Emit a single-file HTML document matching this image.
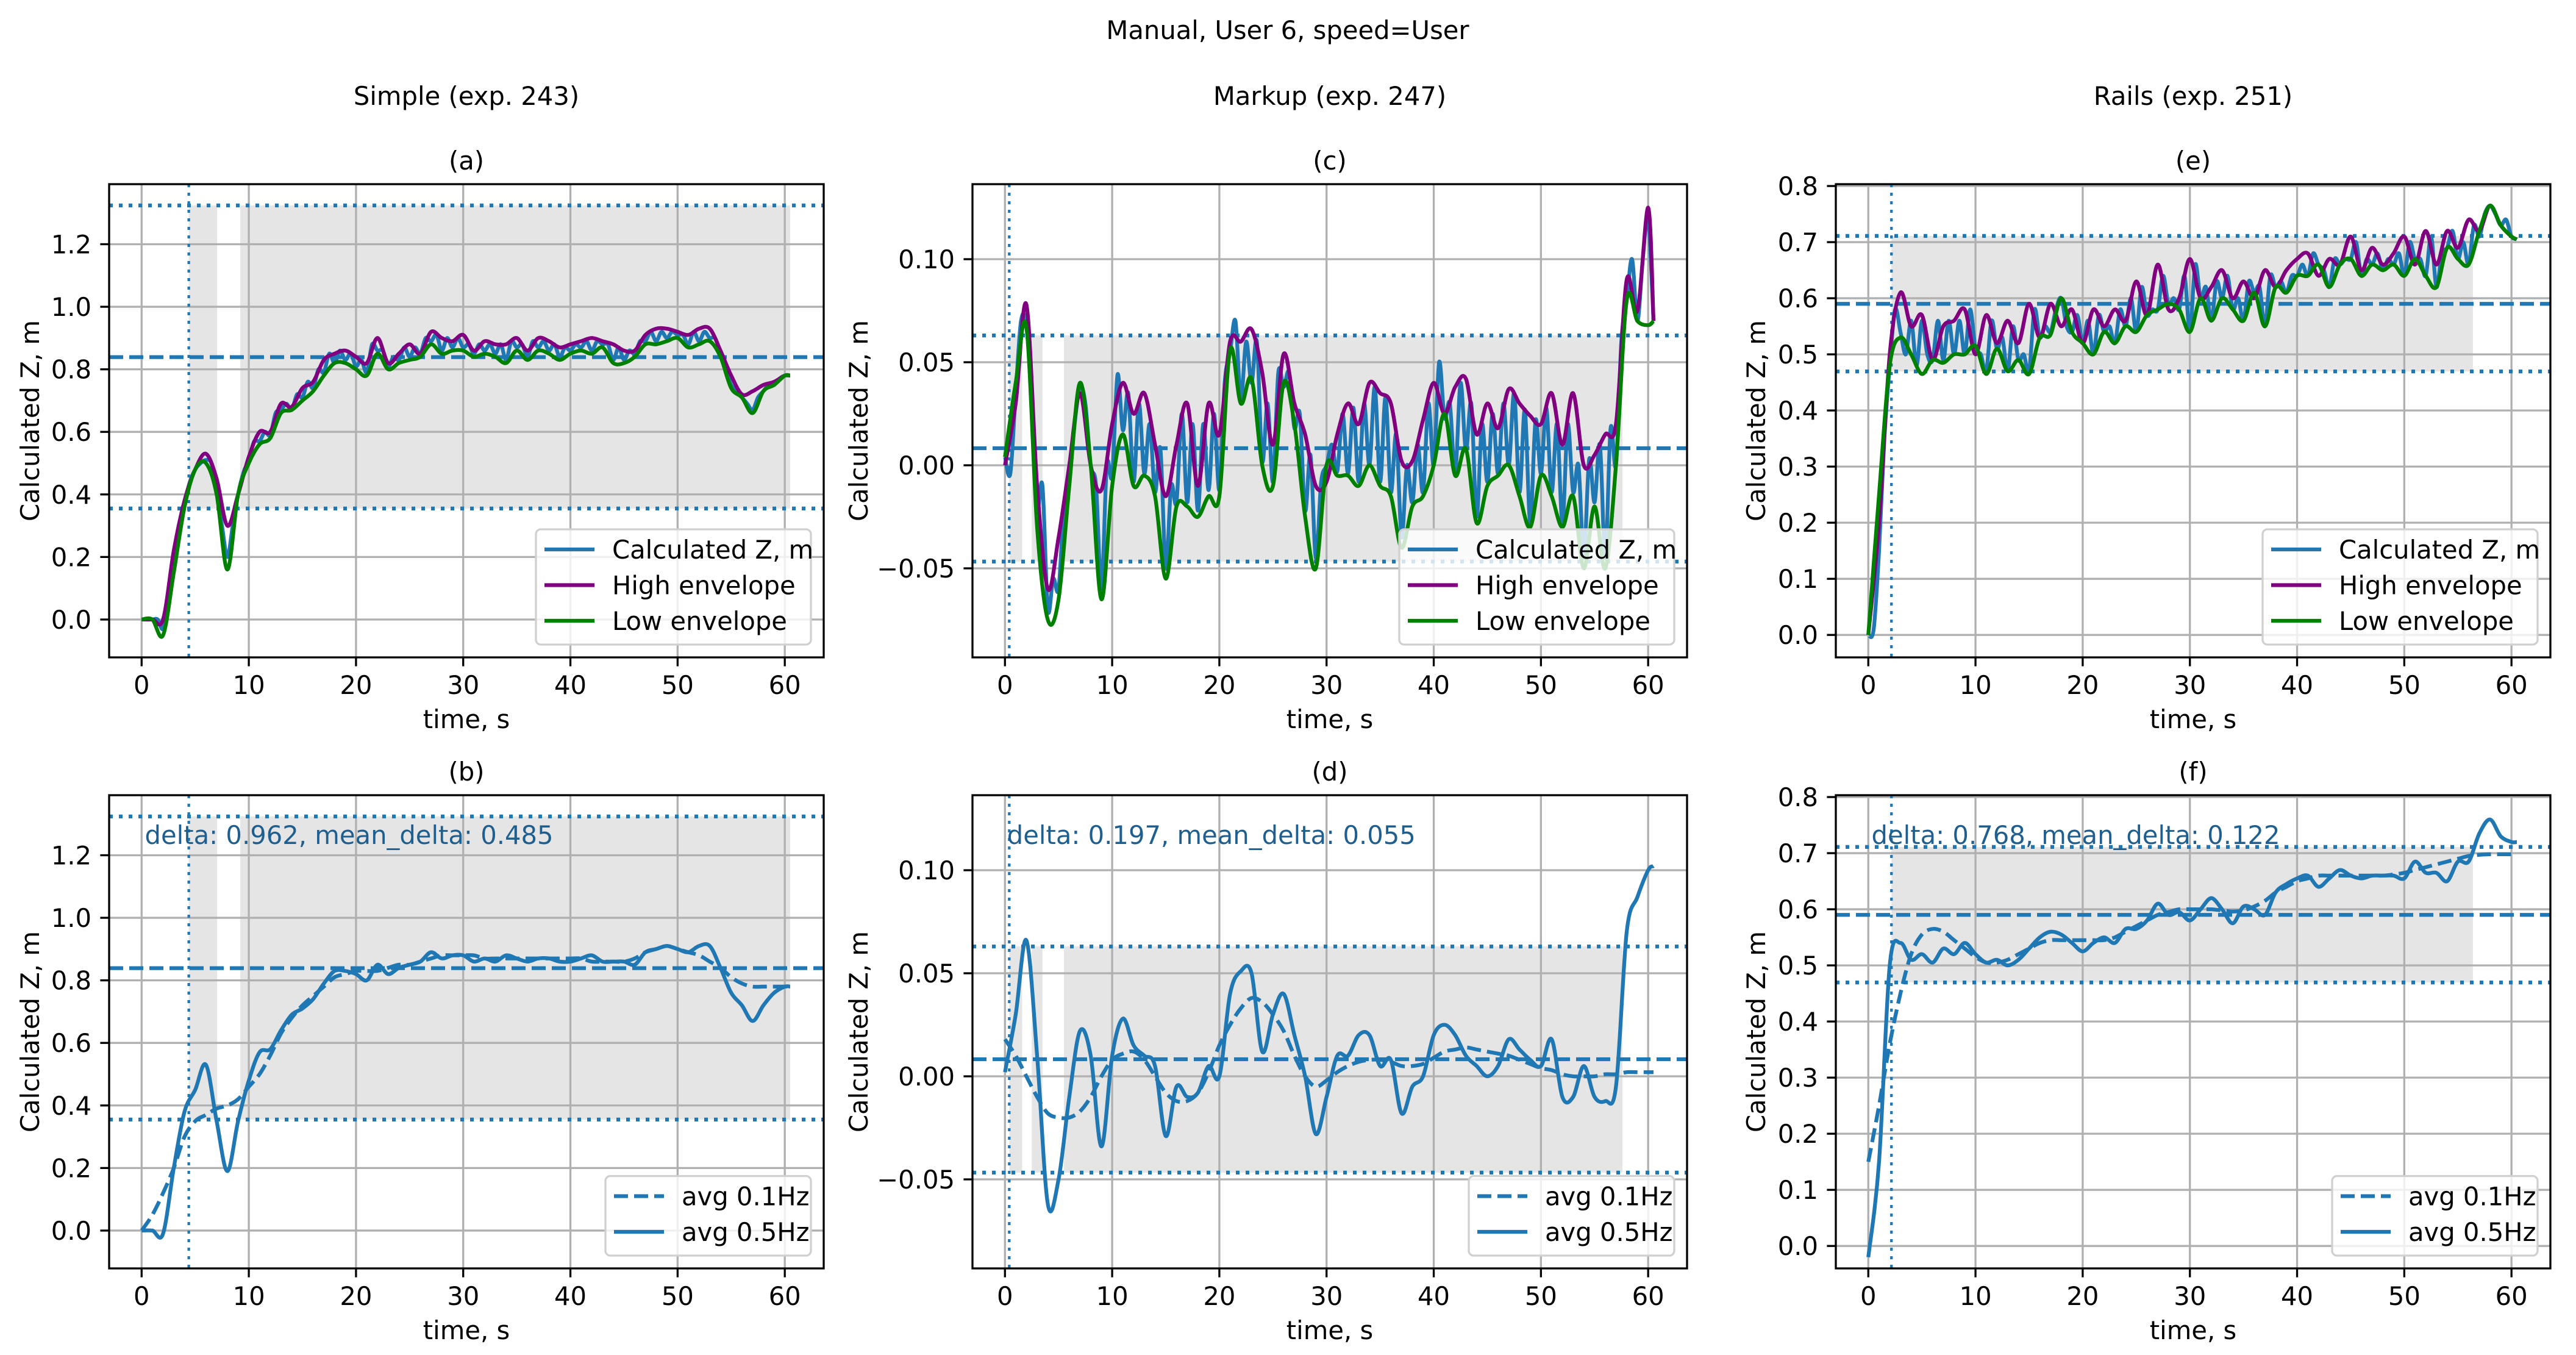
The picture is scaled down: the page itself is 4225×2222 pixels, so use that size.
<!DOCTYPE html>
<html><head><meta charset="utf-8">
<style>
html,body{margin:0;padding:0;background:#fff;}
svg{display:block;font-family:"DejaVu Sans","Liberation Sans",sans-serif;}
</style></head>
<body>
<svg id="fig" xmlns="http://www.w3.org/2000/svg" width="4225" height="2222" viewBox="0 0 4225 2222">
<rect x="0" y="0" width="4225" height="2222" fill="#ffffff"/>
<text x="2112" y="64" font-size="41.7" text-anchor="middle">Manual, User 6, speed=User</text>
<text x="765" y="172" font-size="41.7" text-anchor="middle">Simple (exp. 243)</text>
<text x="2181" y="172" font-size="41.7" text-anchor="middle">Markup (exp. 247)</text>
<text x="3597" y="172" font-size="41.7" text-anchor="middle">Rails (exp. 251)</text>
</svg>
<script>
// ---------- DATA ----------
const tEnv = []; for (let i = 0; i <= 60; i++) tEnv.push(i); tEnv.push(60.5);
const tFast = []; for (let i = 0; i <= 121; i++) tFast.push(i * 0.5);

const xTickLabels = ["0","10","20","30","40","50","60"];
const xTickValues = [0,10,20,30,40,50,60];

// Panel (a) Simple
const aHigh = [0,0,0,0.22,0.38,0.48,0.53,0.45,0.30,0.40,
 0.52,0.60,0.60,0.69,0.68,0.74,0.76,0.83,0.85,0.86,
 0.84,0.82,0.90,0.82,0.85,0.88,0.85,0.92,0.90,0.89,
 0.91,0.86,0.89,0.88,0.88,0.90,0.86,0.90,0.89,0.87,
 0.88,0.89,0.90,0.89,0.88,0.86,0.86,0.91,0.93,0.93,
 0.92,0.91,0.93,0.93,0.86,0.78,0.72,0.73,0.75,0.76,
 0.78,0.78];
const aLow = [0,0,-0.05,0.15,0.36,0.48,0.50,0.40,0.16,0.40,
 0.50,0.56,0.58,0.66,0.67,0.70,0.73,0.78,0.82,0.82,
 0.80,0.78,0.85,0.80,0.82,0.83,0.84,0.88,0.85,0.86,
 0.86,0.84,0.85,0.84,0.82,0.86,0.83,0.86,0.85,0.83,
 0.85,0.86,0.85,0.87,0.82,0.82,0.84,0.88,0.88,0.89,
 0.90,0.87,0.88,0.89,0.84,0.74,0.71,0.66,0.73,0.75,
 0.78,0.78];
const aCalc = [0,0, 0,0, -0.03,0.05, 0.18,0.3, 0.37,0.44, 0.48,0.5, 0.51,0.5, 0.42,0.3, 0.2,0.3, 0.4,0.47,
 0.51,0.57, 0.57,0.6, 0.59,0.66, 0.67,0.69, 0.67,0.72, 0.71,0.76, 0.74,0.8, 0.79,0.85, 0.82,0.86, 0.83,0.85,
 0.81,0.83, 0.79,0.88, 0.86,0.86, 0.81,0.84, 0.83,0.87, 0.84,0.87, 0.85,0.9, 0.89,0.91, 0.86,0.9, 0.87,0.9,
 0.87,0.88, 0.85,0.88, 0.86,0.88, 0.85,0.88, 0.83,0.89, 0.87,0.88, 0.84,0.89, 0.87,0.89, 0.86,0.88, 0.84,0.87,
 0.86,0.88, 0.87,0.89, 0.86,0.89, 0.88,0.88, 0.83,0.87, 0.83,0.86, 0.85,0.89, 0.89,0.92, 0.89,0.92, 0.9,0.92,
 0.91,0.91, 0.88,0.92, 0.89,0.92, 0.9,0.9, 0.85,0.8, 0.75,0.73, 0.71,0.69, 0.67,0.71, 0.73,0.75, 0.75,0.77,
 0.78,0.78];
// Panel (b)
const bFast = [0,0,-0.01,0.2,0.38,0.45,0.53,0.35,0.19,0.35,
 0.48,0.57,0.58,0.64,0.69,0.71,0.74,0.79,0.83,0.83,
 0.82,0.80,0.85,0.82,0.84,0.85,0.86,0.89,0.87,0.88,
 0.88,0.86,0.87,0.86,0.88,0.87,0.86,0.87,0.87,0.86,
 0.86,0.87,0.88,0.86,0.86,0.86,0.85,0.89,0.90,0.91,
 0.90,0.89,0.91,0.91,0.84,0.76,0.72,0.67,0.72,0.76,
 0.78,0.78];
const bSlow = [0,0.05,0.12,0.2,0.3,0.35,0.37,0.39,0.40,0.42,
 0.46,0.5,0.56,0.63,0.68,0.72,0.75,0.78,0.81,0.82,
 0.83,0.83,0.83,0.84,0.85,0.85,0.86,0.87,0.88,0.88,
 0.88,0.88,0.87,0.87,0.87,0.87,0.87,0.87,0.87,0.87,
 0.87,0.87,0.86,0.86,0.86,0.86,0.87,0.89,0.90,0.91,
 0.90,0.89,0.88,0.86,0.84,0.81,0.79,0.78,0.78,0.78,
 0.78,0.78];

// Panel (c) Markup
const cHigh = [0.0,0.03,0.078,-0.01,-0.06,-0.035,0.0,0.035,0.0,-0.012,
 0.02,0.04,0.025,0.035,0.01,-0.015,0.01,0.03,-0.01,0.03,
 0.015,0.06,0.06,0.066,0.045,0.01,0.054,0.03,0.015,-0.01,
 -0.008,0.015,0.03,0.02,0.04,0.035,0.03,0.002,0.002,0.022,
 0.04,0.025,0.038,0.042,0.015,0.03,0.018,0.037,0.03,0.024,
 0.02,0.035,0.01,0.035,0.0,0.005,0.015,0.02,0.09,0.075,
 0.125,0.07];
const cLow = [0.004,0.04,0.067,-0.03,-0.075,-0.065,-0.01,0.04,0.0,-0.065,
 -0.01,0.015,-0.01,-0.005,-0.015,-0.055,-0.02,-0.02,-0.025,-0.015,
 -0.015,0.056,0.03,0.042,0.0,-0.01,0.04,0.02,-0.025,-0.05,
 0.0,-0.005,-0.005,-0.01,0.0,-0.01,-0.015,-0.04,-0.02,-0.015,
 0.0,0.025,-0.005,0.008,-0.028,-0.01,-0.005,0.0,-0.015,-0.03,
 -0.005,-0.015,-0.03,-0.015,-0.05,-0.02,-0.05,0.0,0.08,0.07,
 0.068,0.07];
const cCalc = [0.004,-0.004, 0.035,0.07, 0.068,0.03, -0.02,-0.01, -0.07,-0.055, -0.06,-0.02, -0.008,0.02, 0.038,0.03, 0.0,-0.01, -0.06,0.0,
 -0.005,0.044, 0.017,0.035, -0.008,0.03, -0.004,0.02, -0.013,0.008, -0.05,-0.01, -0.018,0.025, -0.018,0.02, -0.022,0.02, -0.012,0.025,
 -0.012,0.04, 0.055,0.07, 0.032,0.06, 0.04,0.06, 0.002,0.03, -0.008,0.045, 0.038,0.045, 0.018,0.025, -0.022,0.005, -0.045,-0.008,
 0.0,0.01, -0.003,0.025, -0.004,0.028, -0.008,0.03, 0.0,0.038, -0.008,0.033, -0.013,0.015, -0.035,0.0, -0.018,0.01, -0.013,0.03,
 0.0,0.05, 0.023,0.03, -0.004,0.04, 0.007,0.03, -0.025,0.02, -0.008,0.025, -0.004,0.03, 0.0,0.035, -0.013,0.027, -0.028,0.022,
 -0.004,0.028, -0.013,0.02, -0.028,0.02, -0.013,0.0, -0.045,0.003, -0.018,0.01, -0.045,0.018, 0.0,0.06, 0.08,0.1, 0.07,0.1,
 0.12,0.07];
// Panel (d)
const dFast = [0.002,0.03,0.066,0.01,-0.062,-0.05,-0.01,0.022,0.01,-0.034,
 0.01,0.028,0.015,0.01,0.005,-0.029,-0.005,-0.01,-0.008,0.005,
 0.0,0.04,0.051,0.05,0.012,0.03,0.04,0.02,0.0,-0.028,
 -0.01,0.01,0.01,0.02,0.02,0.005,0.008,-0.018,-0.005,0.0,
 0.02,0.025,0.02,0.01,0.005,0.0,0.005,0.018,0.013,0.008,
 0.005,0.018,-0.01,-0.01,0.005,-0.01,-0.012,-0.005,0.07,0.087,
 0.1,0.102];
const dSlow = [0.018,0.01,0.0,-0.01,-0.018,-0.02,-0.02,-0.017,-0.01,0.0,
 0.008,0.011,0.012,0.008,0.0,-0.008,-0.012,-0.012,-0.008,0.002,
 0.015,0.025,0.033,0.038,0.036,0.03,0.022,0.01,0.0,-0.005,
 -0.002,0.002,0.005,0.007,0.008,0.008,0.007,0.005,0.005,0.006,
 0.009,0.012,0.013,0.014,0.013,0.012,0.011,0.01,0.008,0.006,
 0.004,0.003,0.001,0.0,0.0,0.0,0.001,0.001,0.002,0.002,
 0.002,0.002];

// Panel (e) Rails
const eHigh = [0.0,0.2,0.5,0.61,0.55,0.57,0.49,0.55,0.56,0.58,
 0.5,0.57,0.52,0.56,0.52,0.59,0.53,0.59,0.55,0.58,
 0.52,0.58,0.55,0.58,0.56,0.63,0.57,0.66,0.58,0.6,
 0.67,0.6,0.62,0.65,0.6,0.63,0.6,0.65,0.62,0.65,
 0.67,0.68,0.64,0.67,0.66,0.71,0.65,0.69,0.66,0.68,
 0.71,0.66,0.72,0.66,0.72,0.69,0.74,0.72,0.765,0.73,
 0.71,0.705];
const eLow = [0.0,0.25,0.48,0.53,0.5,0.465,0.49,0.485,0.5,0.5,
 0.515,0.465,0.51,0.47,0.49,0.465,0.53,0.535,0.6,0.54,
 0.52,0.5,0.54,0.52,0.55,0.54,0.57,0.58,0.59,0.58,
 0.54,0.6,0.56,0.6,0.58,0.56,0.61,0.55,0.62,0.61,
 0.64,0.64,0.66,0.62,0.66,0.67,0.64,0.66,0.65,0.66,
 0.64,0.67,0.64,0.62,0.69,0.67,0.66,0.72,0.765,0.73,
 0.71,0.705];
const eCalc = [0.0,0.01, 0.15,0.35, 0.48,0.58, 0.54,0.5, 0.56,0.48, 0.56,0.5, 0.49,0.56, 0.49,0.56, 0.5,0.56, 0.5,0.58,
 0.51,0.5, 0.47,0.56, 0.51,0.53, 0.47,0.55, 0.49,0.5, 0.47,0.58, 0.53,0.55, 0.54,0.58, 0.6,0.55, 0.54,0.57,
 0.52,0.56, 0.5,0.57, 0.54,0.55, 0.52,0.58, 0.55,0.6, 0.54,0.62, 0.57,0.58, 0.58,0.64, 0.59,0.6, 0.58,0.64,
 0.54,0.66, 0.6,0.62, 0.56,0.63, 0.6,0.64, 0.58,0.6, 0.56,0.63, 0.61,0.62, 0.55,0.64, 0.62,0.63, 0.61,0.64,
 0.64,0.66, 0.64,0.68, 0.66,0.65, 0.62,0.67, 0.66,0.67, 0.67,0.7, 0.64,0.67, 0.66,0.68, 0.65,0.67, 0.66,0.68,
 0.64,0.7, 0.67,0.67, 0.64,0.71, 0.62,0.68, 0.69,0.72, 0.67,0.7, 0.66,0.73, 0.71,0.75, 0.765,0.75, 0.73,0.74,
 0.71,0.705];
// Panel (f)
const fFast = [-0.02,0.15,0.5,0.54,0.51,0.52,0.505,0.53,0.52,0.54,
 0.52,0.505,0.51,0.5,0.51,0.53,0.55,0.56,0.555,0.54,
 0.525,0.54,0.55,0.54,0.565,0.565,0.58,0.61,0.59,0.595,
 0.58,0.6,0.62,0.6,0.575,0.605,0.6,0.59,0.63,0.645,
 0.655,0.66,0.64,0.655,0.67,0.66,0.655,0.66,0.66,0.66,
 0.655,0.685,0.665,0.665,0.65,0.685,0.685,0.735,0.76,0.73,
 0.72,0.72];
const fSlow = [0.15,0.25,0.36,0.45,0.52,0.555,0.565,0.56,0.545,0.53,
 0.515,0.505,0.505,0.51,0.52,0.53,0.54,0.545,0.545,0.545,
 0.545,0.545,0.545,0.55,0.56,0.57,0.58,0.59,0.595,0.6,
 0.6,0.6,0.6,0.598,0.596,0.598,0.605,0.615,0.63,0.64,
 0.65,0.655,0.66,0.66,0.66,0.66,0.66,0.66,0.66,0.662,
 0.665,0.67,0.675,0.68,0.685,0.69,0.695,0.697,0.698,0.698,
 0.698,0.698];

// reference levels per column: [upper dotted, dashed mean, lower dotted, vertical dotted time]
const simpleLevels = [1.324, 0.839, 0.355, 4.4];
const markupLevels = [0.063, 0.0083, -0.0467, 0.4];
const railsLevels = [0.711, 0.590, 0.4696, 2.16];
const simpleSpans = [[4.4, 7.05], [9.2, 60.5]];
const markupSpans = [[0.4, 1.6], [2.5, 3.5], [5.5, 57.6]];
const railsSpans = [[2.16, 56.4]];
const simpleYTicks = [0, 0.2, 0.4, 0.6, 0.8, 1.0, 1.2];
const simpleYLabels = ["0.0","0.2","0.4","0.6","0.8","1.0","1.2"];
const markupYTicks = [-0.05, 0, 0.05, 0.10];
const markupYLabels = ["\u22120.05","0.00","0.05","0.10"];
const railsYTicks = [0,0.1,0.2,0.3,0.4,0.5,0.6,0.7,0.8];
const railsYLabels = ["0.0","0.1","0.2","0.3","0.4","0.5","0.6","0.7","0.8"];
const annotations = ["delta: 0.962, mean_delta: 0.485", "delta: 0.197, mean_delta: 0.055", "delta: 0.768, mean_delta: 0.122"];

// ---------- RENDERING ----------
const NS = "http://www.w3.org/2000/svg";
const fig = document.getElementById('fig');
const BLUE = "#1f77b4", PURPLE = "#800080", GREEN = "#008000";
const LW = 6.25, GW = 3.3;
const AW = 1172, AH = 776;
const XMIN = -3.03, XMAX = 63.63;

function mk(tag, attrs, parent) {
  const e = document.createElementNS(NS, tag);
  for (const k in attrs) e.setAttribute(k, attrs[k]);
  (parent || fig).appendChild(e);
  return e;
}
function smoothPath(pts) {
  if (pts.length < 2) return "";
  let d = "M" + pts[0][0].toFixed(1) + "," + pts[0][1].toFixed(1);
  for (let i = 0; i < pts.length - 1; i++) {
    const p0 = pts[Math.max(0, i - 1)], p1 = pts[i], p2 = pts[i + 1], p3 = pts[Math.min(pts.length - 1, i + 2)];
    const c1x = p1[0] + (p2[0] - p0[0]) / 6, c1y = p1[1] + (p2[1] - p0[1]) / 6;
    const c2x = p2[0] - (p3[0] - p1[0]) / 6, c2y = p2[1] - (p3[1] - p1[1]) / 6;
    d += " C" + c1x.toFixed(1) + "," + c1y.toFixed(1) + " " + c2x.toFixed(1) + "," + c2y.toFixed(1) + " " + p2[0].toFixed(1) + "," + p2[1].toFixed(1);
  }
  return d;
}
let clipId = 0;
function panel(cfg) {
  const L = cfg.left, T = cfg.top;
  const sx = v => L + (v - XMIN) / (XMAX - XMIN) * AW;
  const sy = v => T + (cfg.ymax - v) / (cfg.ymax - cfg.ymin) * AH;
  const g = mk('g', {});
  
  
  const cid = 'clip' + (clipId++);
  const cp = mk('clipPath', { id: cid }, g);
  mk('rect', { x: L, y: T, width: AW, height: AH }, cp);
  const plot = mk('g', { 'clip-path': 'url(#' + cid + ')' }, g);
  const lv = cfg.levels;
  cfg.spans.forEach(s => {
    const r = mk('rect', { x: sx(s[0]), y: sy(lv[0]), width: sx(s[1]) - sx(s[0]), height: sy(lv[2]) - sy(lv[0]), fill: '#e5e5e5' }, plot);
    
    
  });
  xTickValues.forEach(v => { mk('line', { x1: sx(v), x2: sx(v), y1: T, y2: T + AH, stroke: '#b0b0b0', 'stroke-width': GW }, plot); });
  cfg.yticks.forEach(v => { mk('line', { x1: L, x2: L + AW, y1: sy(v), y2: sy(v), stroke: '#b0b0b0', 'stroke-width': GW }, plot); });
  const up = mk('line', { x1: L, x2: L + AW, y1: sy(lv[0]), y2: sy(lv[0]), stroke: BLUE, 'stroke-width': LW, 'stroke-dasharray': '6 10' }, plot);
  
  
  const lo = mk('line', { x1: L, x2: L + AW, y1: sy(lv[2]), y2: sy(lv[2]), stroke: BLUE, 'stroke-width': LW, 'stroke-dasharray': '6 10' }, plot);
  
  
  const mn = mk('line', { x1: L, x2: L + AW, y1: sy(lv[1]), y2: sy(lv[1]), stroke: BLUE, 'stroke-width': LW, 'stroke-dasharray': '23 10' }, plot);
  
  
  const vt = mk('line', { x1: sx(lv[3]), x2: sx(lv[3]), y1: T, y2: T + AH, stroke: BLUE, 'stroke-width': GW * 1.3, 'stroke-dasharray': '5 9' }, plot);
  
  
  cfg.series.forEach(s => {
    const pts = s.t.map((tt, i) => [sx(tt), sy(s.v[i])]);
    const p = mk('path', { d: smoothPath(pts), fill: 'none', stroke: s.color, 'stroke-width': LW, 'stroke-linejoin': 'round', 'stroke-linecap': 'butt' }, plot);
    if (s.dash) p.setAttribute('stroke-dasharray', s.dash);
    
    
  });
  const sp = mk('rect', { x: L, y: T, width: AW, height: AH, fill: 'none', stroke: '#000', 'stroke-width': GW }, g);
  
  
  xTickValues.forEach((v, i) => {
    mk('line', { x1: sx(v), x2: sx(v), y1: T + AH, y2: T + AH + 14.6, stroke: '#000', 'stroke-width': GW }, g);
    const t = mk('text', { x: sx(v), y: T + AH + 60, 'font-size': 41.7, 'text-anchor': 'middle' }, g);
    t.textContent = xTickLabels[i];
    
    
  });
  cfg.yticks.forEach((v, i) => {
    mk('line', { x1: L - 14.6, x2: L, y1: sy(v), y2: sy(v), stroke: '#000', 'stroke-width': GW }, g);
    const t = mk('text', { x: L - 29, y: sy(v) + 15, 'font-size': 41.7, 'text-anchor': 'end' }, g);
    t.textContent = cfg.ylabels[i];
    
    
  });
  const xl = mk('text', { x: L + AW / 2, y: T + AH + 116, 'font-size': 41.7, 'text-anchor': 'middle' }, g);
  xl.textContent = 'time, s';
  
  
  const yl = mk('text', { x: 0, y: 0, 'font-size': 41.7, 'text-anchor': 'middle', transform: 'translate(' + cfg.ylabelX + ',' + (T + AH / 2) + ') rotate(-90)' }, g);
  yl.textContent = 'Calculated Z, m';
  
  
  const tt = mk('text', { x: L + AW / 2, y: T - 24, 'font-size': 41.7, 'text-anchor': 'middle' }, g);
  tt.textContent = cfg.title;
  
  
  if (cfg.annot) {
    const an = mk('text', { x: sx(cfg.annotX), y: T + 80, 'font-size': 41.7, fill: '#1f5f8f' }, g);
    an.textContent = cfg.annot;
    
    
  }
  const lg = mk('g', {}, g);
  
  
  const n = cfg.legend.length;
  const rowH = 58.5;
  const lw = cfg.legendW;
  const lh = 72 + rowH * (n - 1);
  const lx = L + AW - 21 - lw, ly = T + AH - 21 - lh;
  mk('rect', { x: lx, y: ly, width: lw, height: lh, rx: 8, fill: '#ffffff', 'fill-opacity': 0.8, stroke: '#d0d0d0', 'stroke-width': GW }, lg);
  cfg.legend.forEach((e, i) => {
    const cy = ly + 33 + rowH * i;
    const ln = mk('line', { x1: lx + 14, x2: lx + 96, y1: cy, y2: cy, stroke: e.color, 'stroke-width': LW }, lg);
    if (e.dash) ln.setAttribute('stroke-dasharray', e.dash);
    
    
    const tx = mk('text', { x: lx + 125, y: cy + 15, 'font-size': 41.7 }, lg);
    tx.textContent = e.label;
    
    
  });
}

const envLegend = [{ label: 'Calculated Z, m', color: BLUE }, { label: 'High envelope', color: PURPLE }, { label: 'Low envelope', color: GREEN }];
const avgLegend = [{ label: 'avg 0.1Hz', color: BLUE, dash: '23 10' }, { label: 'avg 0.5Hz', color: BLUE }];
const cols = [
  { left: 179, ymin: -0.121, ymax: 1.392, yticks: simpleYTicks, ylabels: simpleYLabels, levels: simpleLevels, spans: simpleSpans, ylabelX: 64, annotX: 0.3,
    top: { title: '(a)', calc: aCalc, high: aHigh, low: aLow }, bot: { title: '(b)', slow: bSlow, fast: bFast, annot: annotations[0] } },
  { left: 1595, ymin: -0.0932, ymax: 0.1364, yticks: markupYTicks, ylabels: markupYLabels, levels: markupLevels, spans: markupSpans, ylabelX: 1423, annotX: 0.2,
    top: { title: '(c)', calc: cCalc, high: cHigh, low: cLow }, bot: { title: '(d)', slow: dSlow, fast: dFast, annot: annotations[1] } },
  { left: 3011, ymin: -0.040, ymax: 0.8033, yticks: railsYTicks, ylabels: railsYLabels, levels: railsLevels, spans: railsSpans, ylabelX: 2895, annotX: 0.3,
    top: { title: '(e)', calc: eCalc, high: eHigh, low: eLow }, bot: { title: '(f)', slow: fSlow, fast: fFast, annot: annotations[2] } }
];
cols.forEach(c => {
  panel({ name: 'panel-' + c.top.title.replace(/[()]/g, ''), left: c.left, top: 302, ymin: c.ymin, ymax: c.ymax, yticks: c.yticks, ylabels: c.ylabels,
    levels: c.levels, spans: c.spans, ylabelX: c.ylabelX, title: c.top.title, legend: envLegend, legendW: 451,
    series: [
      { name: 'calculated-z-line', t: tFast, v: c.top.calc, color: BLUE },
      { name: 'high-envelope-line', t: tEnv, v: c.top.high, color: PURPLE },
      { name: 'low-envelope-line', t: tEnv, v: c.top.low, color: GREEN }
    ] });
  panel({ name: 'panel-' + c.bot.title.replace(/[()]/g, ''), left: c.left, top: 1304, ymin: c.ymin, ymax: c.ymax, yticks: c.yticks, ylabels: c.ylabels,
    levels: c.levels, spans: c.spans, ylabelX: c.ylabelX, title: c.bot.title, legend: avgLegend, legendW: 337,
    annot: c.bot.annot, annotX: c.annotX,
    series: [
      { name: 'avg-0.1hz-line', t: tEnv, v: c.bot.slow, color: BLUE, dash: '23 10' },
      { name: 'avg-0.5hz-line', t: tEnv, v: c.bot.fast, color: BLUE }
    ] });
});
</script>
</body></html>
